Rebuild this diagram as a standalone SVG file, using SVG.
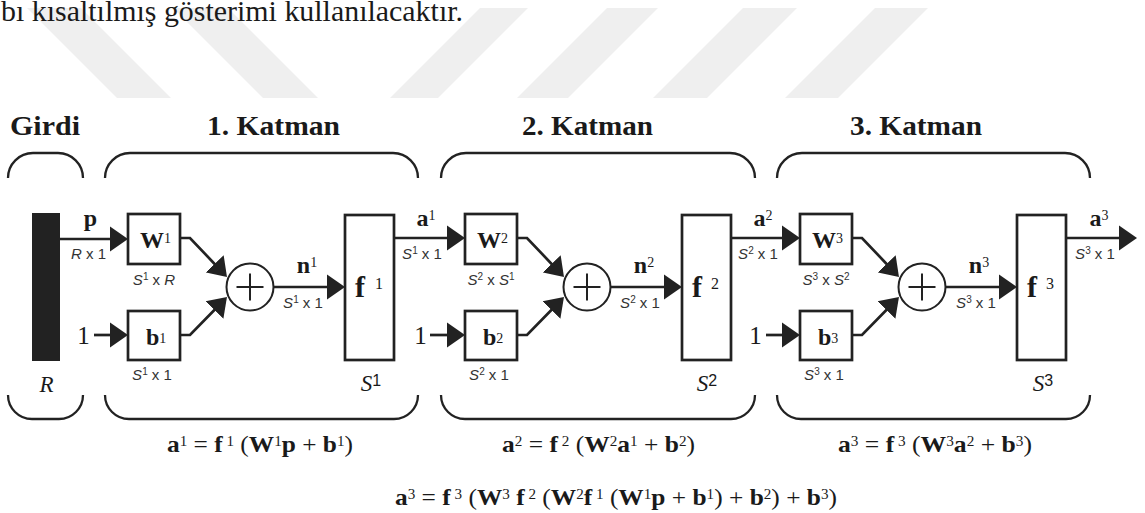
<svg xmlns="http://www.w3.org/2000/svg" width="1145" height="513" viewBox="0 0 1145 513">
<defs>
<style>
.wm{fill:#efefef}
.ln{fill:none;stroke:#222;stroke-width:2.7;marker-end:url(#ah)}
.box{fill:#fff;stroke:#222;stroke-width:2.7}
.sum{fill:#fff;stroke:#222;stroke-width:2}
.plus{stroke:#222;stroke-width:2}
.br{fill:none;stroke:#222;stroke-width:2.3}
.t{font-family:Liberation Serif,serif;fill:#1a1a1a}
.title{font-weight:bold;font-size:27.5px}
.bd{font-weight:bold}
.sym{font-size:24px}
.eq{font-size:23.5px}
.es{font-size:14px;font-weight:normal}
.d{font-family:Liberation Sans,sans-serif;font-size:15px;fill:#333}
.it{font-style:italic}
.sp{font-size:10px}
.big{font-size:23px}
.mid{text-anchor:middle}
</style>
<marker id="ah" markerUnits="userSpaceOnUse" viewBox="0 -13 18 26" markerWidth="18" markerHeight="26" refX="8" refY="0" orient="auto"><path d="M0,-12.5L18,0L0,12.5z" fill="#222"/></marker>
</defs>
<rect width="1145" height="513" fill="#fff"/>
<g id="watermark">
<polygon class="wm" points="27,8 81,8 171,98 117,98"/>
<polygon class="wm" points="173,8 228,8 318,98 263,98"/>
<polygon class="wm" points="480,8 528,8 438,98 390,98"/>
<polygon class="wm" points="607,8 658,8 568,98 517,98"/>
<polygon class="wm" points="743,8 797,8 707,98 653,98"/>
<polygon class="wm" points="875,8 928,8 838,98 785,98"/>
</g>
<text class="t" style="font-family:Liberation Serif,serif" x="1" y="21" font-size="30" fill="#111" textLength="462" lengthAdjust="spacingAndGlyphs">b&#305; k&#305;salt&#305;lm&#305;&#351; g&#246;sterimi kullan&#305;lacakt&#305;r.</text>
<g id="titles">
<text class="t title" style="font-family:Liberation Serif,serif" x="10" y="135" textLength="70" lengthAdjust="spacingAndGlyphs">Girdi</text>
<text class="t title" style="font-family:Liberation Serif,serif" x="207" y="135" textLength="133" lengthAdjust="spacingAndGlyphs">1. Katman</text>
<text class="t title" style="font-family:Liberation Serif,serif" x="522" y="135" textLength="131" lengthAdjust="spacingAndGlyphs">2. Katman</text>
<text class="t title" style="font-family:Liberation Serif,serif" x="850" y="135" textLength="132" lengthAdjust="spacingAndGlyphs">3. Katman</text>
</g>
<g id="brackets">
<path class="br" d="M8,178A25,25 0 0 1 33,153H58A25,25 0 0 1 83,178"/>
<path class="br" d="M105,178A25,25 0 0 1 130,153H393A25,25 0 0 1 418,178"/>
<path class="br" d="M441,178A25,25 0 0 1 466,153H730A25,25 0 0 1 755,178"/>
<path class="br" d="M777,178A25,25 0 0 1 802,153H1065A25,25 0 0 1 1090,178"/>
<path class="br" d="M8,395A24,24 0 0 0 32,419H59A24,24 0 0 0 83,395"/>
<path class="br" d="M105,395A24,24 0 0 0 129,419H394A24,24 0 0 0 418,395"/>
<path class="br" d="M441,395A24,24 0 0 0 465,419H731A24,24 0 0 0 755,395"/>
<path class="br" d="M777,395A24,24 0 0 0 801,419H1066A24,24 0 0 0 1090,395"/>
</g>
<g id="connectors">
<path class="ln" d="M60,239H118"/>
<path class="ln" d="M94,335H118"/>
<path class="ln" d="M180,238H190L220.1,269.7"/>
<path class="ln" d="M180,335H190L220,304.2"/>
<path class="ln" d="M273.5,287H335"/>
<path class="ln" d="M394,238H455"/>
<path class="ln" d="M430,335H455"/>
<path class="ln" d="M517,238H527L557.1,269.7"/>
<path class="ln" d="M517,335H527L557,304.2"/>
<path class="ln" d="M610.5,287H672"/>
<path class="ln" d="M731,238H790"/>
<path class="ln" d="M766,335H790"/>
<path class="ln" d="M852,238H862L892.1,269.7"/>
<path class="ln" d="M852,335H862L892,304.2"/>
<path class="ln" d="M945.5,287H1007"/>
<path class="ln" d="M1066,238H1127"/>
</g>
<g id="input">
<rect x="32" y="213" width="28" height="148" fill="#222"/>
<text class="t sym bd mid" style="font-family:Liberation Serif,serif" x="90.5" y="226">p</text>
<text class="d mid" style="font-family:Liberation Sans,sans-serif" x="88.5" y="259"><tspan class="it">R</tspan> x 1</text>
<text class="t big it mid" style="font-family:Liberation Serif,serif" x="46.5" y="392">R</text>
</g>
<g id="W1">
<rect class="box" x="128" y="214" width="52" height="50"/>
<text class="t sym bd" style="font-family:Liberation Serif,serif" x="140" y="248">W<tspan class="es" font-size="15" dy="-5">1</tspan></text>
<text class="d mid" style="font-family:Liberation Sans,sans-serif" x="154" y="285"><tspan class="it">S</tspan><tspan class="sp" dy="-5">1</tspan><tspan dy="5"> x </tspan><tspan class="it">R</tspan></text>
</g>
<g id="b1">
<text class="t mid" style="font-family:Liberation Serif,serif" x="83.5" y="344" font-size="25">1</text>
<rect class="box" x="128" y="311" width="52" height="49"/>
<text class="t sym bd" style="font-family:Liberation Serif,serif" x="146" y="345">b<tspan class="es" font-size="15" dy="-2">1</tspan></text>
<text class="d mid" style="font-family:Liberation Sans,sans-serif" x="152" y="380"><tspan class="it">S</tspan><tspan class="sp" dy="-5">1</tspan><tspan dy="5"> x 1</tspan></text>
</g>
<g id="sum1">
<circle class="sum" cx="250" cy="287" r="23.5"/>
<path class="plus" d="M236.5,287H263.5M250,273.5V300.5"/>
<text class="t sym bd mid" style="font-family:Liberation Serif,serif" x="307" y="273">n<tspan class="es" font-size="15" dy="-6">1</tspan></text>
<text class="d mid" style="font-family:Liberation Sans,sans-serif" x="303" y="308"><tspan class="it">S</tspan><tspan class="sp" dy="-5">1</tspan><tspan dy="5"> x 1</tspan></text>
</g>
<g id="f1">
<rect class="box" x="345" y="215" width="49" height="145"/>
<text class="t bd" style="font-family:Liberation Serif,serif" x="355" y="297" font-size="30">f</text>
<text class="t" style="font-family:Liberation Serif,serif" x="375" y="289" font-size="16">1</text>
<text class="t mid" style="font-family:Liberation Serif,serif" x="371" y="391"><tspan class="big it">S</tspan><tspan style="font-family:Liberation Sans,sans-serif" font-size="16" dy="-5">1</tspan></text>
<text class="t sym bd mid" style="font-family:Liberation Serif,serif" x="426" y="226">a<tspan class="es" font-size="15" dy="-6">1</tspan></text>
<text class="d mid" style="font-family:Liberation Sans,sans-serif" x="422" y="259"><tspan class="it">S</tspan><tspan class="sp" dy="-5">1</tspan><tspan dy="5"> x 1</tspan></text>
</g>
<g id="W2">
<rect class="box" x="465" y="214" width="52" height="50"/>
<text class="t sym bd" style="font-family:Liberation Serif,serif" x="477" y="248">W<tspan class="es" font-size="15" dy="-5">2</tspan></text>
<text class="d mid" style="font-family:Liberation Sans,sans-serif" x="491" y="285"><tspan class="it">S</tspan><tspan class="sp" dy="-5">2</tspan><tspan dy="5"> x </tspan><tspan class="it">S</tspan><tspan class="sp" dy="-5">1</tspan></text>
</g>
<g id="b2">
<text class="t mid" style="font-family:Liberation Serif,serif" x="420.5" y="344" font-size="25">1</text>
<rect class="box" x="465" y="311" width="52" height="49"/>
<text class="t sym bd" style="font-family:Liberation Serif,serif" x="483" y="345">b<tspan class="es" font-size="15" dy="-2">2</tspan></text>
<text class="d mid" style="font-family:Liberation Sans,sans-serif" x="489" y="380"><tspan class="it">S</tspan><tspan class="sp" dy="-5">2</tspan><tspan dy="5"> x 1</tspan></text>
</g>
<g id="sum2">
<circle class="sum" cx="587" cy="287" r="23.5"/>
<path class="plus" d="M573.5,287H600.5M587,273.5V300.5"/>
<text class="t sym bd mid" style="font-family:Liberation Serif,serif" x="644" y="273">n<tspan class="es" font-size="15" dy="-6">2</tspan></text>
<text class="d mid" style="font-family:Liberation Sans,sans-serif" x="640" y="308"><tspan class="it">S</tspan><tspan class="sp" dy="-5">2</tspan><tspan dy="5"> x 1</tspan></text>
</g>
<g id="f2">
<rect class="box" x="682" y="215" width="49" height="145"/>
<text class="t bd" style="font-family:Liberation Serif,serif" x="692" y="297" font-size="30">f</text>
<text class="t" style="font-family:Liberation Serif,serif" x="711" y="289" font-size="16">2</text>
<text class="t mid" style="font-family:Liberation Serif,serif" x="707" y="391"><tspan class="big it">S</tspan><tspan style="font-family:Liberation Sans,sans-serif" font-size="16" dy="-5">2</tspan></text>
<text class="t sym bd mid" style="font-family:Liberation Serif,serif" x="763" y="226">a<tspan class="es" font-size="15" dy="-6">2</tspan></text>
<text class="d mid" style="font-family:Liberation Sans,sans-serif" x="758" y="259"><tspan class="it">S</tspan><tspan class="sp" dy="-5">2</tspan><tspan dy="5"> x 1</tspan></text>
</g>
<g id="W3">
<rect class="box" x="800" y="214" width="52" height="50"/>
<text class="t sym bd" style="font-family:Liberation Serif,serif" x="812" y="248">W<tspan class="es" font-size="15" dy="-5">3</tspan></text>
<text class="d mid" style="font-family:Liberation Sans,sans-serif" x="826" y="285"><tspan class="it">S</tspan><tspan class="sp" dy="-5">3</tspan><tspan dy="5"> x </tspan><tspan class="it">S</tspan><tspan class="sp" dy="-5">2</tspan></text>
</g>
<g id="b3">
<text class="t mid" style="font-family:Liberation Serif,serif" x="755.5" y="344" font-size="25">1</text>
<rect class="box" x="800" y="311" width="52" height="49"/>
<text class="t sym bd" style="font-family:Liberation Serif,serif" x="818" y="345">b<tspan class="es" font-size="15" dy="-2">3</tspan></text>
<text class="d mid" style="font-family:Liberation Sans,sans-serif" x="824" y="380"><tspan class="it">S</tspan><tspan class="sp" dy="-5">3</tspan><tspan dy="5"> x 1</tspan></text>
</g>
<g id="sum3">
<circle class="sum" cx="922" cy="287" r="23.5"/>
<path class="plus" d="M908.5,287H935.5M922,273.5V300.5"/>
<text class="t sym bd mid" style="font-family:Liberation Serif,serif" x="979" y="273">n<tspan class="es" font-size="15" dy="-6">3</tspan></text>
<text class="d mid" style="font-family:Liberation Sans,sans-serif" x="976" y="308"><tspan class="it">S</tspan><tspan class="sp" dy="-5">3</tspan><tspan dy="5"> x 1</tspan></text>
</g>
<g id="f3">
<rect class="box" x="1017" y="215" width="49" height="145"/>
<text class="t bd" style="font-family:Liberation Serif,serif" x="1027" y="297" font-size="30">f</text>
<text class="t" style="font-family:Liberation Serif,serif" x="1046" y="289" font-size="16">3</text>
<text class="t mid" style="font-family:Liberation Serif,serif" x="1043" y="391"><tspan class="big it">S</tspan><tspan style="font-family:Liberation Sans,sans-serif" font-size="16" dy="-5">3</tspan></text>
<text class="t sym bd mid" style="font-family:Liberation Serif,serif" x="1099" y="226">a<tspan class="es" font-size="15" dy="-6">3</tspan></text>
<text class="d mid" style="font-family:Liberation Sans,sans-serif" x="1095" y="259"><tspan class="it">S</tspan><tspan class="sp" dy="-5">3</tspan><tspan dy="5"> x 1</tspan></text>
</g>
<g id="equations">
<text class="t eq" style="font-family:Liberation Serif,serif" x="167" y="452" textLength="186" lengthAdjust="spacingAndGlyphs"><tspan class="bd">a</tspan><tspan class="es" dy="-6">1</tspan><tspan dy="6"> = </tspan><tspan class="bd">f</tspan><tspan class="es" dy="-6"> 1</tspan><tspan dy="6"> (</tspan><tspan class="bd">W</tspan><tspan class="es" dy="-6">1</tspan><tspan class="bd" dy="6">p</tspan><tspan> + </tspan><tspan class="bd">b</tspan><tspan class="es" dy="-6">1</tspan><tspan dy="6">)</tspan></text>
<text class="t eq" style="font-family:Liberation Serif,serif" x="502" y="452" textLength="193" lengthAdjust="spacingAndGlyphs"><tspan class="bd">a</tspan><tspan class="es" dy="-6">2</tspan><tspan dy="6"> = </tspan><tspan class="bd">f</tspan><tspan class="es" dy="-6"> 2</tspan><tspan dy="6"> (</tspan><tspan class="bd">W</tspan><tspan class="es" dy="-6">2</tspan><tspan class="bd" dy="6">a</tspan><tspan class="es" dy="-6">1</tspan><tspan dy="6"> + </tspan><tspan class="bd">b</tspan><tspan class="es" dy="-6">2</tspan><tspan dy="6">)</tspan></text>
<text class="t eq" style="font-family:Liberation Serif,serif" x="838" y="452" textLength="194" lengthAdjust="spacingAndGlyphs"><tspan class="bd">a</tspan><tspan class="es" dy="-6">3</tspan><tspan dy="6"> = </tspan><tspan class="bd">f</tspan><tspan class="es" dy="-6"> 3</tspan><tspan dy="6"> (</tspan><tspan class="bd">W</tspan><tspan class="es" dy="-6">3</tspan><tspan class="bd" dy="6">a</tspan><tspan class="es" dy="-6">2</tspan><tspan dy="6"> + </tspan><tspan class="bd">b</tspan><tspan class="es" dy="-6">3</tspan><tspan dy="6">)</tspan></text>
<text class="t eq" style="font-family:Liberation Serif,serif" x="395" y="505" textLength="442" lengthAdjust="spacingAndGlyphs"><tspan class="bd">a</tspan><tspan class="es" dy="-6">3</tspan><tspan dy="6"> = </tspan><tspan class="bd">f</tspan><tspan class="es" dy="-6"> 3</tspan><tspan dy="6"> (</tspan><tspan class="bd">W</tspan><tspan class="es" dy="-6">3</tspan><tspan class="bd" dy="6"> f</tspan><tspan class="es" dy="-6"> 2</tspan><tspan dy="6"> (</tspan><tspan class="bd">W</tspan><tspan class="es" dy="-6">2</tspan><tspan class="bd" dy="6">f</tspan><tspan class="es" dy="-6"> 1</tspan><tspan dy="6"> (</tspan><tspan class="bd">W</tspan><tspan class="es" dy="-6">1</tspan><tspan class="bd" dy="6">p</tspan><tspan> + </tspan><tspan class="bd">b</tspan><tspan class="es" dy="-6">1</tspan><tspan dy="6">) + </tspan><tspan class="bd">b</tspan><tspan class="es" dy="-6">2</tspan><tspan dy="6">) + </tspan><tspan class="bd">b</tspan><tspan class="es" dy="-6">3</tspan><tspan dy="6">)</tspan></text>
</g>
</svg>
